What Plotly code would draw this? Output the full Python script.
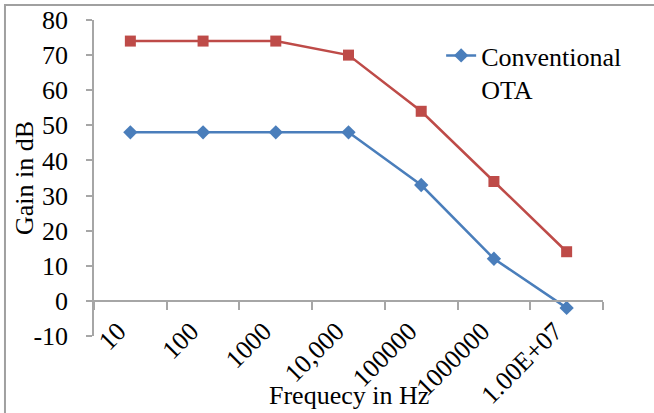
import plotly.graph_objects as go

categories = ["10", "100", "1000", "10,000", "100000", "1000000", "1.00E+07"]
conventional_ota = [48, 48, 48, 48, 33, 12, -2]
proposed_ota = [74, 74, 74, 70, 54, 34, 14]
y_ticks = [-10, 0, 10, 20, 30, 40, 50, 60, 70, 80]
y_tick_labels = [str(v) for v in y_ticks]

FONT = "Liberation Serif, Times New Roman, serif"
AXIS_GREY = "#A6A6A6"
BLUE = "#4A7EBB"
RED = "#BE4B48"
FS = 26

fig = go.Figure()
fig.add_trace(go.Scatter(
    x=categories, y=conventional_ota, name="Conventional<br>OTA",
    mode="lines+markers",
    line=dict(color=BLUE, width=2.5),
    marker=dict(symbol="diamond", size=11, color=BLUE),
))
fig.add_trace(go.Scatter(
    x=categories, y=proposed_ota, name="Proposed OTA",
    mode="lines+markers", showlegend=False,
    line=dict(color=RED, width=2.5),
    marker=dict(symbol="square", size=11, color=RED),
))

ymin, ymax = y_ticks[0], y_ticks[-1]
fig.update_layout(
    width=654, height=413,
    margin=dict(l=94, r=51, t=20, b=77, autoexpand=False),
    paper_bgcolor="white", plot_bgcolor="white",
    font=dict(family=FONT, size=FS, color="#000000"),
    showlegend=True,
    legend=dict(x=0.682, y=0.962, xanchor="left", yanchor="top",
                font=dict(size=FS), valign="top",
                bgcolor="rgba(0,0,0,0)", tracegroupgap=0),
    xaxis=dict(
        type="category", categoryorder="array", categoryarray=categories,
        range=[-0.5, len(categories) - 0.5],
        anchor="free", position=(0 - ymin) / (ymax - ymin), automargin=False,
        showline=True, linecolor=AXIS_GREY, linewidth=1.5,
        ticks="outside", tickson="boundaries", ticklen=8, tickcolor=AXIS_GREY, tickwidth=1.5,
        tickangle=-45, tickfont=dict(size=FS), ticklabelstandoff=4, ticklabelshift=-12,
        showgrid=False, zeroline=False,
    ),
    yaxis=dict(
        range=[ymin, ymax], tickmode="array", tickvals=y_ticks, ticktext=y_tick_labels,
        automargin=False,
        showline=True, linecolor=AXIS_GREY, linewidth=1.5,
        ticks="outside", ticklen=6, tickcolor=AXIS_GREY, tickwidth=1.5,
        tickfont=dict(size=FS), ticklabelstandoff=13,
        showgrid=False, zeroline=False,
    ),
    annotations=[
        dict(text="Frequecy in Hz", xref="paper", yref="paper", x=0.5, y=-0.187,
             xanchor="center", yanchor="middle", showarrow=False, font=dict(size=FS)),
        dict(text="Gain in dB", xref="paper", yref="paper", x=-0.1375, y=0.5,
             xanchor="center", yanchor="middle", textangle=-90, showarrow=False,
             font=dict(size=FS)),
    ],
    shapes=[
        dict(type="rect", xref="paper", yref="paper", x0=-0.1749, y0=-2, x1=2, y1=1.0475,
             line=dict(color="#A0A0A0", width=2), fillcolor="rgba(0,0,0,0)", layer="below"),
    ],
)

fig.write_html("out.html")
